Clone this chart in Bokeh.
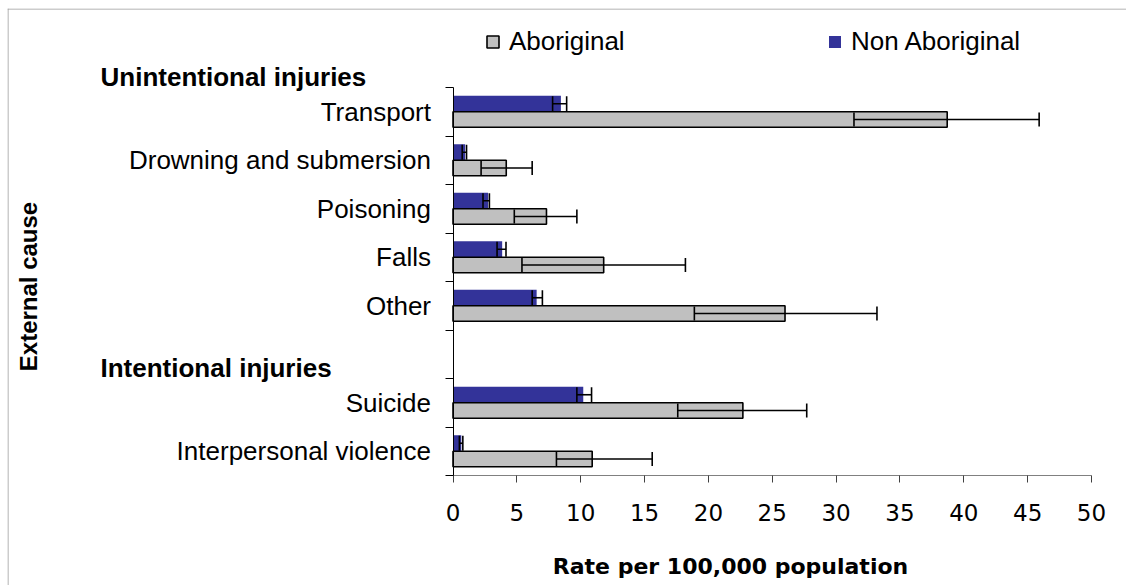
import math
from bokeh.plotting import figure
from bokeh.models import (ColumnDataSource, Range1d, FixedTicker, Whisker, TeeHead,
                          Label, Legend, LegendItem, Span)
from bokeh.embed import file_html
from bokeh.resources import INLINE

# ---------------- data ----------------
causes = ["Transport", "Drowning and submersion", "Poisoning", "Falls", "Other",
          "Suicide", "Interpersonal violence"]
groups = ["Unintentional injuries"] * 5 + ["Intentional injuries"] * 2
aboriginal = [38.7, 4.17, 7.32, 11.8, 26.0, 22.7, 10.9]
aboriginal_lo = [31.4, 2.2, 4.8, 5.4, 18.9, 17.6, 8.1]
aboriginal_hi = [45.9, 6.2, 9.7, 18.2, 33.2, 27.7, 15.6]
non_aboriginal = [8.45, 0.95, 2.75, 3.85, 6.55, 10.2, 0.65]
non_aboriginal_lo = [7.8, 0.72, 2.35, 3.45, 6.2, 9.7, 0.5]
non_aboriginal_hi = [8.9, 1.06, 2.85, 4.15, 7.0, 10.85, 0.77]
x_ticks = [0, 5, 10, 15, 20, 25, 30, 35, 40, 45, 50]
x_max = 50

# ---------------- slots (one blank slot between groups) ----------------
slots = []
s = 0
for i, g in enumerate(groups):
    if i > 0 and g != groups[i - 1]:
        s += 1
    slots.append(s)
    s += 1
n_slots = s
centers = [n_slots - k - 0.5 for k in slots]

BLUE = "#333399"
GRAY = "#C0C0C0"
SANS = "Liberation Sans"
WIDE = "DejaVu Sans"

# ---------------- page geometry (pixels) ----------------
FL, FR, FT, FB = 7, 1126, 8, 585          # drawing area on the page
AX0, AX1 = 452.5, 1091.0                  # page x of value 0 and value x_max
AYB, AYT = 475.0, 87.0                    # page y of slot bottom and slot top
PXU = (AX1 - AX0) / x_max
PYU = (AYB - AYT) / n_slots

def px_x(px):
    return (px - AX0) / PXU

def px_y(py):
    return (AYB - py) / PYU

src = ColumnDataSource(dict(
    cause=causes,
    y_non=[c + 0.165 for c in centers],
    y_ab=[c - 0.16 for c in centers],
    ab=aboriginal, ab_lo=aboriginal_lo, ab_hi=aboriginal_hi,
    non=non_aboriginal, non_lo=non_aboriginal_lo, non_hi=non_aboriginal_hi,
))

p = figure(width=FR - FL, height=FB - FT, output_backend="svg", toolbar_location=None,
           title=None,
           x_range=Range1d(px_x(FL), px_x(FR)), y_range=Range1d(px_y(FB), px_y(FT)),
           min_border=0, min_border_left=0, min_border_right=0,
           min_border_top=0, min_border_bottom=0)
p.margin = (FT, 0, 0, FL)
p.outline_line_color = None
p.xgrid.grid_line_color = None
p.ygrid.grid_line_color = None
p.background_fill_color = "white"
p.border_fill_color = "white"

# chart-area border (left and top edges)
p.add_layout(Span(location=px_x(FL + 0.5), dimension="height",
                  line_color="#9a9a9a", line_width=1))
p.add_layout(Span(location=px_y(FT + 0.5), dimension="width",
                  line_color="#9a9a9a", line_width=1))

r_non = p.hbar(y="y_non", right="non", left=0, height=0.33, source=src,
               fill_color=BLUE, line_color=None)
r_ab = p.hbar(y="y_ab", right="ab", left=0, height=0.32, source=src,
              fill_color=GRAY, line_color="black", line_width=1.6)

for base, lo, hi, size in (("y_ab", "ab_lo", "ab_hi", 14), ("y_non", "non_lo", "non_hi", 15)):
    w = Whisker(source=src, base=base, lower=lo, upper=hi, dimension="width",
                line_color="black", line_width=1.6, level="annotation",
                upper_head=TeeHead(size=size, line_width=1.6, line_color="black"),
                lower_head=TeeHead(size=size, line_width=1.6, line_color="black"))
    p.add_layout(w)

# x axis (drawn at value-axis origin)
xa = p.xaxis[0]
xa.fixed_location = 0
xa.bounds = (0, x_max)
xa.ticker = FixedTicker(ticks=x_ticks)
xa.axis_line_color = "#808080"
xa.major_tick_line_color = "#404040"
xa.major_tick_out = 7
xa.major_tick_in = 0
xa.minor_tick_line_color = None
xa.major_label_standoff = 21
xa.major_label_text_font = WIDE
xa.major_label_text_font_size = "23px"
xa.major_label_text_color = "black"

# y axis: labels at slot centres, tick marks at slot boundaries
ya = p.yaxis[0]
ya.fixed_location = 0
ya.bounds = (0, n_slots)
ya.ticker = FixedTicker(ticks=centers, minor_ticks=list(range(n_slots + 1)))
ya.major_label_overrides = {c: name for c, name in zip(centers, causes)}
ya.major_tick_line_color = None
ya.major_tick_out = 0
ya.major_tick_in = 0
ya.minor_tick_line_color = "black"
ya.minor_tick_out = 8
ya.minor_tick_in = 0
ya.axis_line_color = "black"
ya.major_label_standoff = 14
ya.major_label_text_font = SANS
ya.major_label_text_font_size = "26px"
ya.major_label_text_color = "black"

# group headers
for g, mid_py in (("Unintentional injuries", 76), ("Intentional injuries", 367)):
    p.add_layout(Label(x=px_x(100), y=px_y(mid_py), text=g, text_font=SANS,
                       text_font_style="bold", text_font_size="26px",
                       text_align="left", text_baseline="middle",
                       text_color="black"))

# axis titles
p.add_layout(Label(x=px_x(28), y=px_y(286), text="External cause",
                   angle=math.pi / 2, text_font=SANS, text_font_style="bold",
                   text_font_size="24px", text_align="center", text_baseline="middle",
                   text_color="black"))
p.add_layout(Label(x=px_x(730), y=px_y(566), text="Rate per 100,000 population",
                   text_font=WIDE, text_font_style="bold", text_font_size="22px",
                   text_align="center", text_baseline="middle", text_color="black"))

# legends (location = bottom-left corner, pixels from the drawing area's bottom-left)
for r, name, left_px in ((r_ab, "Aboriginal", 485), (r_non, "Non Aboriginal", 827)):
    lg = Legend(items=[LegendItem(label=name, renderers=[r])],
                location=(left_px - FL, FB - 57), orientation="horizontal",
                glyph_width=15, glyph_height=15, label_standoff=9,
                padding=0, margin=0, border_line_color=None,
                background_fill_alpha=0, label_text_font=SANS,
                label_text_font_size="26px", label_height=28,
                label_text_color="black")
    p.add_layout(lg)

open("out.html", "w").write(file_html(p, INLINE))
